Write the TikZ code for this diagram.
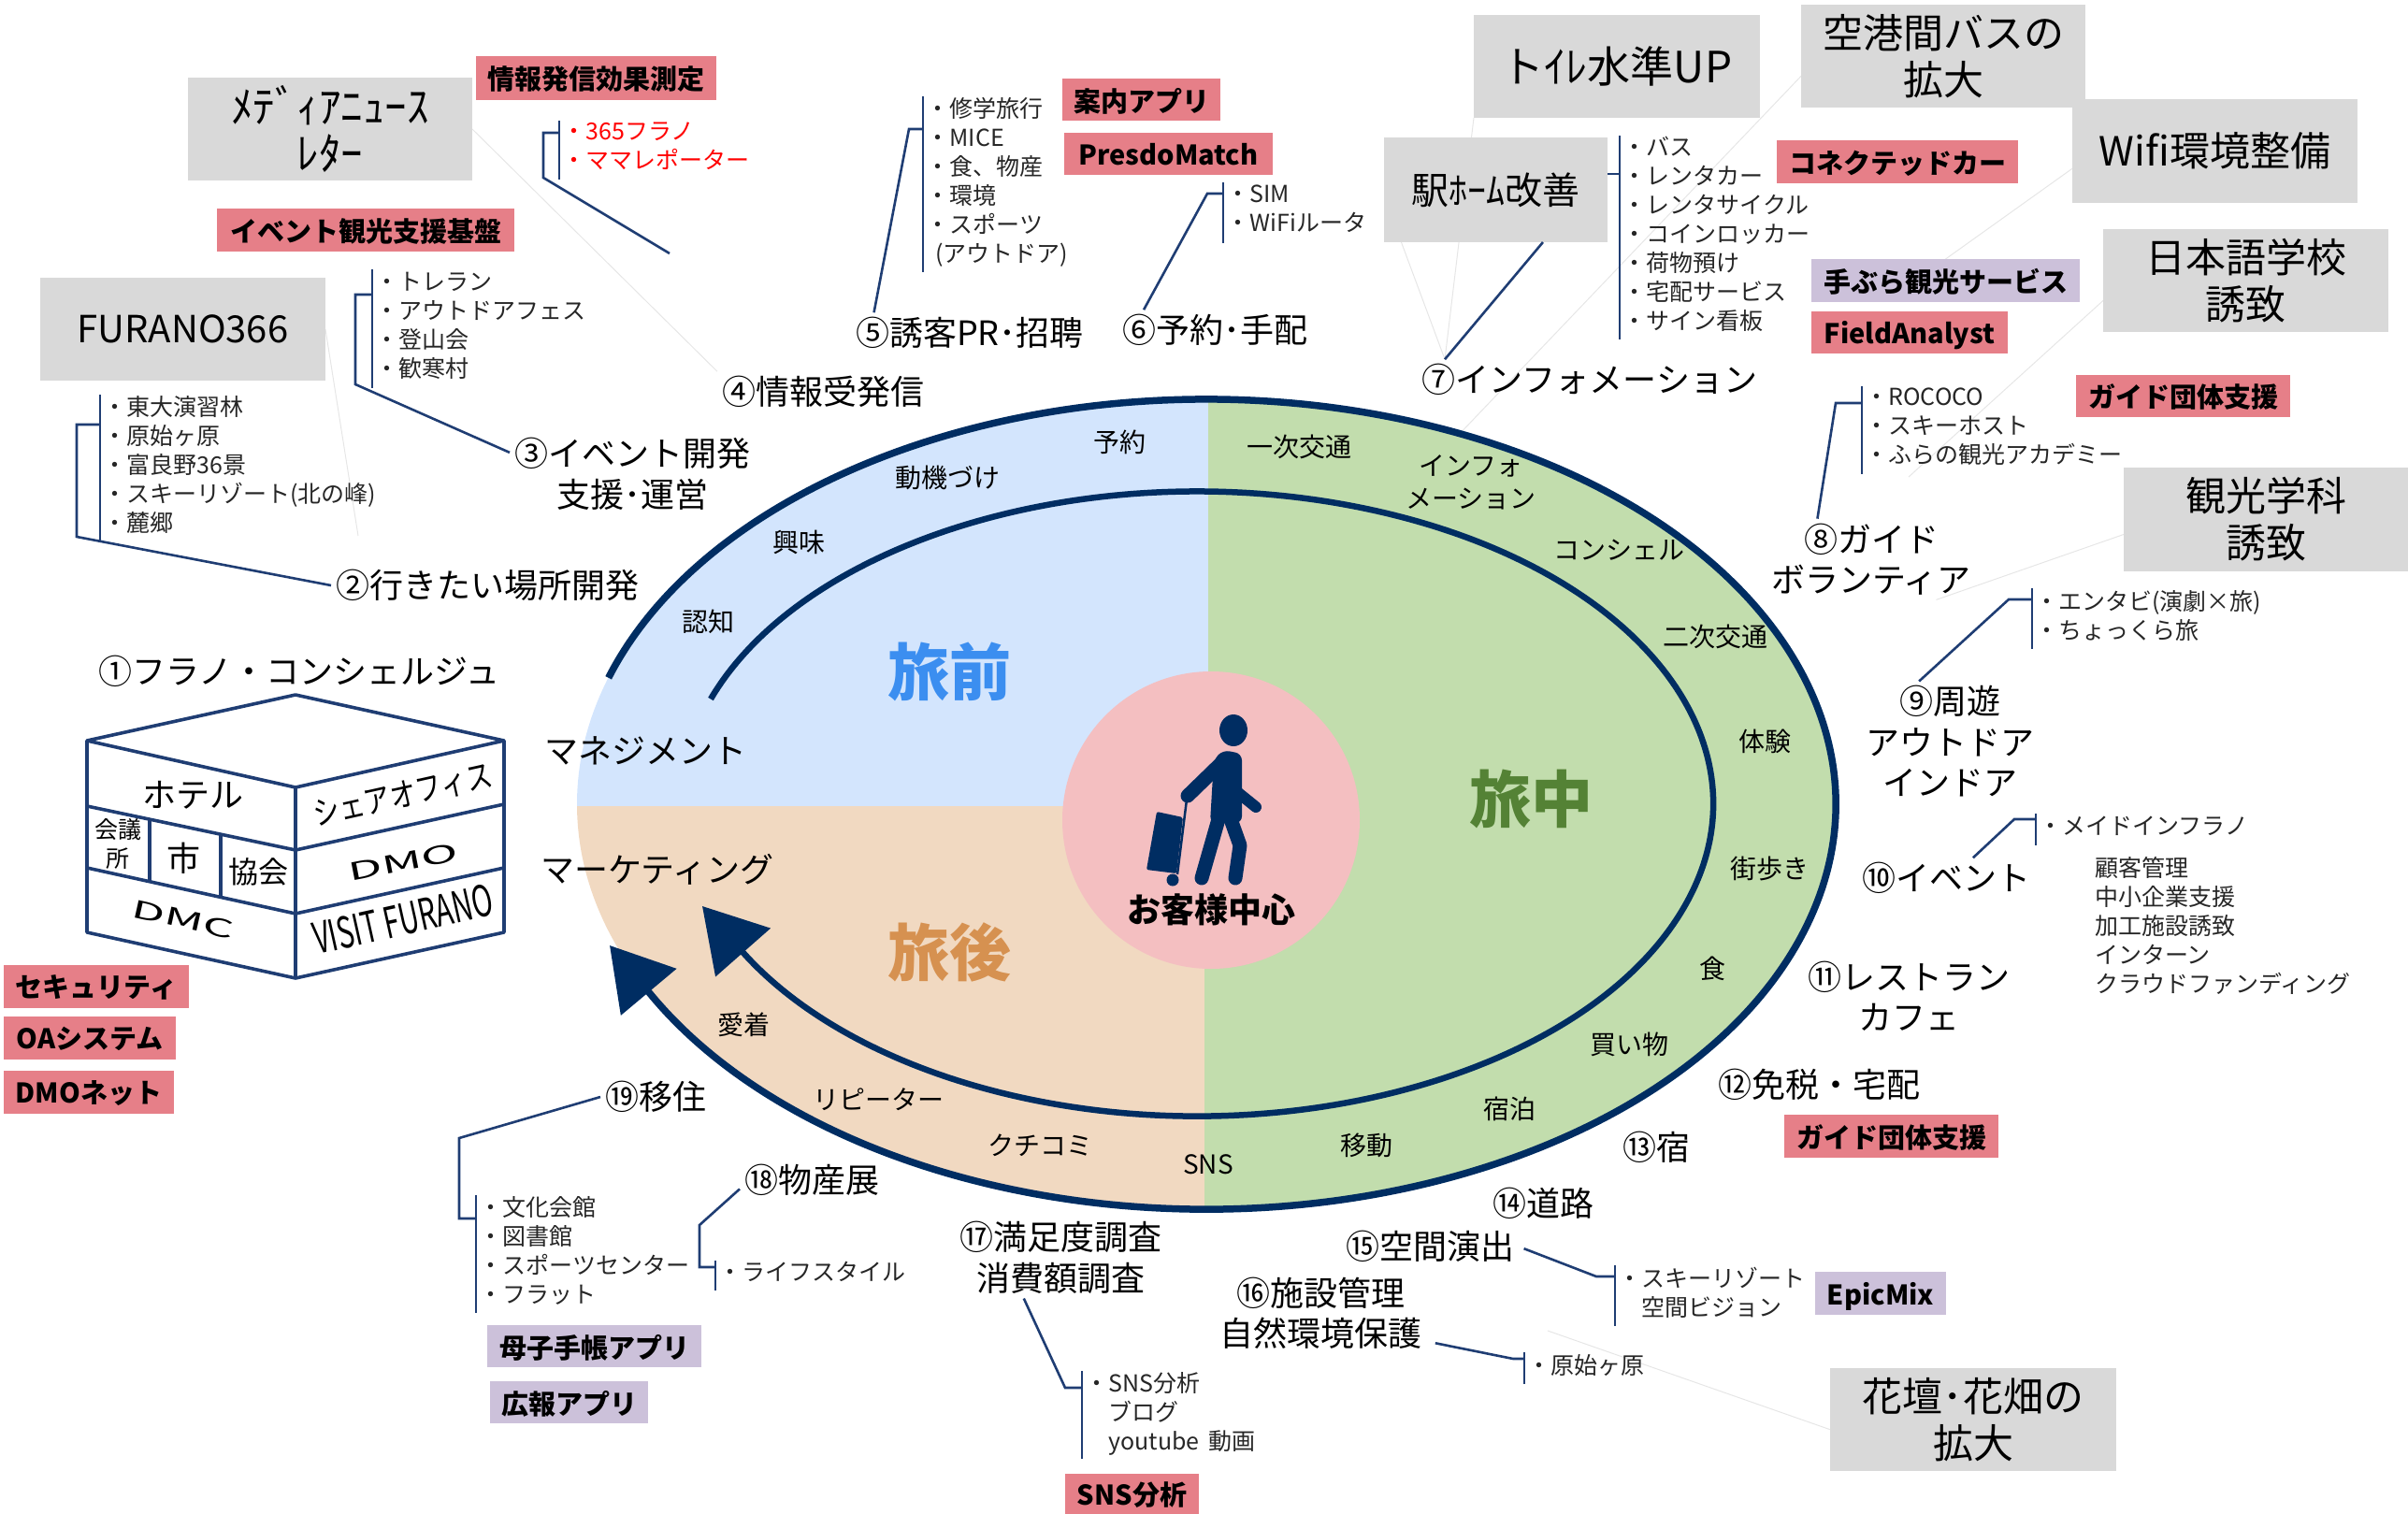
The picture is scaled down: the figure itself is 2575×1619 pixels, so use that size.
\documentclass[tikz,border=0pt]{standalone}
\usepackage{fontspec}
\setmainfont{Noto Sans CJK JP}
\usetikzlibrary{arrows.meta}
\usetikzlibrary{bending}
\usetikzlibrary{backgrounds}
\definecolor{ringnavy}{HTML}{002D62}
\definecolor{linenavy}{HTML}{1F3D73}
\definecolor{faintline}{HTML}{E6E6E6}
\definecolor{greyfill}{HTML}{D9D9D9}
\definecolor{pinkfill}{HTML}{E67F88}
\definecolor{purplefill}{HTML}{CCC1DA}
\definecolor{beforefill}{HTML}{D3E5FD}
\definecolor{duringfill}{HTML}{C2DDAD}
\definecolor{afterfill}{HTML}{F1D9C1}
\definecolor{centrefill}{HTML}{F4BFC1}
\definecolor{beforetxt}{HTML}{3B8EF0}
\definecolor{duringtxt}{HTML}{548235}
\definecolor{aftertxt}{HTML}{D69150}
\begin{document}
\begin{tikzpicture}[x=1pt,y=-1pt,
            leader/.style = {draw=linenavy,line width=2.6pt},
            faint/.style = {draw=faintline,line width=1pt},
            cube/.style = {draw=linenavy,line width=3.6pt,line join=round},
            lab/.style = {font=\fontsize{36}{43.5}\selectfont,align=center,inner sep=5pt,outer sep=0pt},
            ringtxt/.style = {font=\fontsize{28}{35}\selectfont,align=center,inner sep=0pt},
            season/.style = {font=\fontsize{66}{70}\selectfont\bfseries,inner sep=0pt},
            itemlist/.style = {font=\fontsize{25}{31}\selectfont,align=left,anchor=west,inner xsep=3.5pt,
                inner ysep=0pt,outer sep=0pt,text depth=9pt,text=black!85},
            greybox/.style 2 args = {fill=greyfill,font=\fontsize{43}{50}\selectfont,align=center,inner sep=0pt,
                outer sep=0pt,minimum width=#1pt,minimum height=#2pt},
            pinkbox/.style 2 args = {fill=pinkfill,font=\fontsize{29}{34}\selectfont\bfseries,inner sep=0pt,
                outer sep=0pt,text depth=0pt,minimum width=#1pt,minimum height=#2pt},
            purplebox/.style 2 args = {pinkbox={#1}{#2},fill=purplefill}]
\useasboundingbox (0,0) rectangle (2575,1619);

\begin{scope}
    \clip (1290,860) ellipse [x radius=673pt,y radius=433pt];
    \fill[duringfill] (1288,400) rectangle (1990,1320);
    \fill[beforefill] (600,400) rectangle (1292,862);
    \fill[afterfill] (600,862) rectangle (1288,1320);
\end{scope}
\coordinate (outerstart) at (650.7,724.8);
\coordinate (outertip) at (652,1011);
\coordinate (innerstart) at (760,747.5);
\coordinate (innertip) at (751,969);
\draw[draw=ringnavy,line width=7.5pt,-{Triangle[length=65pt,width=76pt,flex]}] (outerstart)
    arc[start angle=161.8,end angle=-152,x radius=673pt,y radius=433pt] -- (outertip);
\draw[draw=ringnavy,line width=6.5pt,-{Triangle[length=66pt,width=77pt,flex]}] (innerstart)
    arc[start angle=160.4,end angle=-151.6,x radius=552pt,y radius=334pt] -- (innertip);

\node[fill=centrefill,circle,minimum size=318pt,inner sep=0pt] (centre) at (1295,877) {};
\fill[ringnavy] (1319,781) ellipse [x radius=15pt,y radius=17pt];
\draw[ringnavy,line width=15pt,line cap=round] (1306,816) -- (1270,851);
\draw[ringnavy,line width=12pt,line cap=round] (1322,846) -- (1343,863);
\fill[ringnavy,rounded corners=7pt] (1298,812) -- (1308,802) -- (1328,806) -- (1328,880) -- (1294,880) -- cycle;
\draw[ringnavy,line width=15pt,line cap=round] (1303,876) -- (1285,939);
\draw[ringnavy,line width=15pt,line cap=round,line join=round] (1316,876) -- (1326,904) -- (1321,939);
\draw[ringnavy,line width=2.5pt] (1269,855) -- (1259,935);
\fill[ringnavy,rounded corners=2pt] (1237,868) -- (1265,874) -- (1258,934) -- (1226,930) -- cycle;
\fill[ringnavy] (1254,941) circle (6.5pt);
\node[font=\fontsize{36}{40}\selectfont\bfseries,inner sep=0pt] (centretxt) at (1295,973) {お客様中心};

\node[season,text=beforetxt] (before) at (1015,718) {旅前};
\node[season,text=duringtxt] (during) at (1637,854) {旅中};
\node[season,text=aftertxt] (after) at (1015,1018) {旅後};

\node[ringtxt] (r1) at (1197,473) {予約};
\node[ringtxt] (r2) at (1389,478) {一次交通};
\node[ringtxt] (r3) at (1573,516) {インフォ\\メーション};
\node[ringtxt] (r4) at (1731,588) {コンシェル};
\node[ringtxt] (r5) at (1834,681) {二次交通};
\node[ringtxt] (r6) at (1887,793) {体験};
\node[ringtxt] (r7) at (1892,929) {街歩き};
\node[ringtxt] (r8) at (1831,1036) {食};
\node[ringtxt] (r9) at (1742,1117) {買い物};
\node[ringtxt] (r10) at (1614,1186) {宿泊};
\node[ringtxt] (r11) at (1461,1225) {移動};
\node[ringtxt] (r12) at (1292,1245) {SNS};
\node[ringtxt] (r13) at (1112,1225) {クチコミ};
\node[ringtxt] (r14) at (939,1176) {リピーター};
\node[ringtxt] (r15) at (795,1096) {愛着};
\node[ringtxt] (r16) at (1013,511) {動機づけ};
\node[ringtxt] (r17) at (854,580) {興味};
\node[ringtxt] (r18) at (757,665) {認知};

\node[lab] (manage) at (690,803) {マネジメント};
\node[lab] (market) at (703,930) {マーケティング};
\node[lab] (l1) at (320,718) {①フラノ・コンシェルジュ};
\node[lab] (l2) at (521,626) {②行きたい場所開発};
\node[lab] (l3) at (676,507) {③イベント開発\\支援･運営};
\node[lab] (l4) at (880,419) {④情報受発信};
\node[lab] (l5) at (1037,356) {⑤誘客PR･招聘};
\node[lab] (l6) at (1299,353) {⑥予約･手配};
\node[lab] (l7) at (1700,406) {⑦インフォメーション};
\node[lab] (l8) at (2001,598) {⑧ガイド\\ボランティア};
\node[lab] (l9) at (2085,793) {⑨周遊\\アウトドア\\インドア};
\node[lab] (l10) at (2081,939) {⑩イベント};
\node[lab] (l11) at (2041,1065) {⑪レストラン\\カフェ};
\node[lab] (l12) at (1945,1160) {⑫免税・宅配};
\node[lab] (l13) at (1771,1227) {⑬宿};
\node[lab] (l14) at (1650,1287) {⑭道路};
\node[lab] (l15) at (1529,1333) {⑮空間演出};
\node[lab] (l16) at (1412,1404) {⑯施設管理\\自然環境保護};
\node[lab] (l17) at (1134,1345) {⑰満足度調査\\消費額調査};
\node[lab] (l18) at (868,1262) {⑱物産展};
\node[lab] (l19) at (701,1173) {⑲移住};

\node[greybox={304}{110},font=\fontsize{47}{50}\selectfont] (gMedia) at (353,138) {ﾒﾃﾞｨｱﾆｭｰｽ\\ﾚﾀｰ};
\node[greybox={305}{110},font=\fontsize{40}{50}\selectfont] (gFurano) at (195.5,352) {FURANO366};
\node[greybox={306}{110},font=\fontsize{46}{50}\selectfont] (gToilet) at (1729,71) {トｲﾚ水準UP};
\node[greybox={239}{112},font=\fontsize{40}{50}\selectfont] (gEki) at (1599.5,203) {駅ﾎｰﾑ改善};
\node[greybox={304}{110}] (gKuko) at (2078,60) {空港間バスの\\拡大};
\node[greybox={305}{111}] (gWifi) at (2368.5,161.5) {Wifi環境整備};
\node[greybox={305}{110}] (gNihongo) at (2401.5,300) {日本語学校\\誘致};
\node[greybox={304}{111}] (gKanko) at (2423,555.5) {観光学科\\誘致};
\node[greybox={306}{110}] (gKadan) at (2110,1518) {花壇･花畑の\\拡大};

\node[pinkbox={257}{47}] (pMeasure) at (637.5,83.5) {情報発信効果測定};
\node[pinkbox={318}{46}] (pEvent) at (391,246) {イベント観光支援基盤};
\node[pinkbox={169}{45}] (pGuideApp) at (1220.5,106.5) {案内アプリ};
\node[pinkbox={223}{45}] (pPresdo) at (1249.5,164.5) {PresdoMatch};
\node[pinkbox={258}{46}] (pCar) at (2029,173) {コネクテッドカー};
\node[pinkbox={210}{45}] (pField) at (2042,355.5) {FieldAnalyst};
\node[pinkbox={229}{45}] (pGuide) at (2334.5,423.5) {ガイド団体支援};
\node[pinkbox={229}{46}] (pGuideb) at (2022.5,1215) {ガイド団体支援};
\node[pinkbox={198}{46}] (pSecure) at (103,1055) {セキュリティ};
\node[pinkbox={184}{46}] (pOA) at (96,1110) {OAシステム};
\node[pinkbox={182}{46}] (pDMO) at (95,1168) {DMOネット};
\node[pinkbox={143}{43}] (pSNS) at (1210.5,1597.5) {SNS分析};
\node[purplebox={287}{46}] (qTebura) at (2080.5,300) {手ぶら観光サービス};
\node[purplebox={229}{45}] (qBoshi) at (635.5,1439.5) {母子手帳アプリ};
\node[purplebox={169}{45}] (qKoho) at (608.5,1499.5) {広報アプリ};
\node[purplebox={140}{46}] (qEpic) at (2011,1383) {EpicMix};

\node[itemlist,minimum height=156pt] (list2) at (107,500) {・東大演習林\\・原始ヶ原\\・富良野36景\\・スキーリゾート(北の峰)\\・麓郷};
\node[itemlist,minimum height=127pt] (list3) at (398,351.5) {・トレラン\\・アウトドアフェス\\・登山会\\・歓寒村};
\node[itemlist,minimum height=63pt,text=red] (list4) at (598,160.5) {・365フラノ\\・ママレポーター};
\node[itemlist,minimum height=188pt] (list5) at (987,197) {・修学旅行\\・MICE\\・食、物産\\・環境\\・スポーツ\\\hspace*{10pt}(アウトドア)};
\node[itemlist,minimum height=65pt] (list6) at (1308,227.5) {・SIM\\・WiFiルータ};
\node[itemlist,minimum height=218pt] (list7) at (1732,254) {・バス\\・レンタカー\\・レンタサイクル\\・コインロッカー\\・荷物預け\\・宅配サービス\\・サイン看板};
\node[itemlist,minimum height=94pt] (list8) at (1991,460) {・ROCOCO\\・スキーホスト\\・ふらの観光アカデミー};
\node[itemlist,minimum height=65pt] (list9) at (2173,661.5) {・エンタビ(演劇×旅)\\・ちょっくら旅};
\node[itemlist,minimum height=34pt] (list10) at (2177,887) {・メイドインフラノ};
\node[itemlist] (list10b) at (2236.5,993) {顧客管理\\中小企業支援\\加工施設誘致\\インターン\\クラウドファンディング};
\node[itemlist,minimum height=65pt] (list15) at (1727,1385.5) {・スキーリゾート\\\hspace*{25pt}空間ビジョン};
\node[itemlist,minimum height=34pt] (list16) at (1630,1463) {・原始ヶ原};
\node[itemlist,minimum height=94pt] (list17) at (1157,1513) {・SNS分析\\\hspace*{25pt}ブログ\\\hspace*{25pt}youtube\, 動画};
\node[itemlist,minimum height=32pt] (list18) at (765,1364) {・ライフスタイル};
\node[itemlist,minimum height=126pt] (list19) at (509,1341) {・文化会館\\・図書館\\・スポーツセンター\\・フラット};

\foreach \n in {2,3,4,5,6,7,8,9,10,15,16,17,18,19}
    \draw[leader] (list\n.north west) -- (list\n.south west);

\coordinate (a2) at (82,574);
\coordinate (b2) at (82,454);
\coordinate (a3) at (380,411);
\coordinate (b3) at (380,315);
\coordinate (e4) at (716,271);
\coordinate (a4) at (581,190);
\coordinate (b4) at (581,142);
\coordinate (b5) at (972,138);
\coordinate (b6) at (1291,207);
\coordinate (b7) at (1720,186);
\coordinate (b8) at (1963,431);
\coordinate (b9) at (2148,641);
\coordinate (b10) at (2154,876);
\coordinate (b15) at (1707,1365);
\coordinate (b16) at (1618,1453);
\coordinate (b17) at (1139,1484);
\coordinate (a18) at (748,1310);
\coordinate (b18) at (748,1355);
\coordinate (a19) at (491,1217);
\coordinate (b19) at (491,1303);
\draw[leader] (l2.west) -- (a2) -- (b2) -- (list2.west |- b2);
\draw[leader] (l3.170) -- (a3) -- (b3) -- (list3.west |- b3);
\draw[leader] (e4) -- (a4) -- (b4) -- (list4.west |- b4);
\draw[leader] (l5.168) -- (b5) -- (list5.west |- b5);
\draw[leader] (l6.164) -- (b6) -- (list6.west |- b6);
\draw[leader] (l7.172) -- (gEki.-48);
\draw[leader] (gEki.east |- b7) -- (list7.west |- b7);
\draw[leader] (l8.143) -- (b8) -- (list8.west |- b8);
\draw[leader] (l9.117) -- (b9) -- (list9.west |- b9);
\draw[leader] (l10.37) -- (b10) -- (list10.west |- b10);
\draw[leader,shorten <=6pt] (l15.east) -- (b15) -- (list15.west |- b15);
\draw[leader,shorten <=10pt] (l16.-15) -- (b16) -- (list16.west |- b16);
\draw[leader] (l17.-132) -- (b17) -- (list17.west |- b17);
\draw[leader] (l18.187) -- (a18) -- (b18) -- (list18.west |- b18);
\draw[leader] (l19.west) -- (a19) -- (b19) -- (list19.west |- b19);

\coordinate (t2) at (383,573);
\coordinate (t7) at (1555,470);
\coordinate (t8) at (2041,510);
\coordinate (t16) at (1655,1423);
\begin{scope}[on background layer]
    \draw[faint] (gMedia.east) -- (l4.north west);
    \draw[faint] (gFurano.east) -- (t2);
    \draw[faint] (gToilet.south west) -- (l7.172);
    \draw[faint] (gEki.-151) -- (l7.172);
    \draw[faint] (gKuko.188) -- (t7);
    \draw[faint] (gWifi.187) -- (qTebura.north);
    \draw[faint] (gNihongo.188) -- (t8);
    \draw[faint] (gKanko.186) -- (l8.-32);
    \draw[faint] (gKadan.184) -- (t16);
\end{scope}

\coordinate (cT) at (316,743);
\coordinate (cL) at (93,792);
\coordinate (cR) at (539,792);
\coordinate (cC) at (316,842);
\coordinate (cB) at (316,1046);
\coordinate (cLb) at (93,997);
\coordinate (cRb) at (539,997);
\coordinate (cM1) at (316,909);
\coordinate (cM2) at (316,977);
\draw[cube] (cT) -- (cR) -- (cRb) -- (cB) -- (cLb) -- (cL) -- cycle;
\draw[cube] (cL) -- (cC) -- (cR) (cC) -- (cB);
\draw[cube] (93,862) -- (cM1) -- (539,860);
\draw[cube] (93,928) -- (cM2) -- (539,928);
\draw[cube] (160,876) -- (160,943);
\draw[cube] (236,892) -- (236,959);
\node[lab,inner sep=0pt] (cHotel) at (206,850) {ホテル};
\node[lab,inner sep=0pt] (cCity) at (196,918) {市};
\node[lab,inner sep=0pt,font=\fontsize{32}{36}\selectfont] (cAssoc) at (276,932) {協会};
\node[lab,inner sep=0pt,font=\fontsize{25}{31}\selectfont] (cChamber) at (126,902) {会議\\所};
\node[lab,inner sep=0pt,font=\fontsize{35}{38}\selectfont,rotate=12.6] (cShare) at (431,850) {\scalebox{.8}[1]{シェアオフィス}};
\node[lab,inner sep=0pt,font=\fontsize{26}{30}\selectfont,rotate=11] (cDMO) at (431,922) {\scalebox{2.05}[1]{DMO}};
\node[lab,inner sep=0pt,font=\fontsize{26}{30}\selectfont,rotate=-12.6] (cDMC) at (196,983) {\scalebox{2}[1]{DMC}};
\node[lab,inner sep=0pt,font=\fontsize{46}{50}\selectfont,rotate=12.6] (cVisit) at (431,983) {\scalebox{.65}[1]{VISIT FURANO}};
\end{tikzpicture}
\end{document}
